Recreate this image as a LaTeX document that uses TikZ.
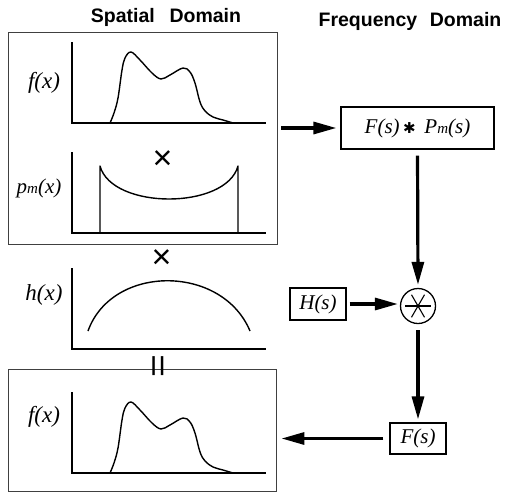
\documentclass[tikz,border=0pt]{standalone}
\usepackage{fontspec}
\usepackage{graphicx}
\setmainfont{Liberation Serif}
\setsansfont{Liberation Sans}
\newfontfamily\symfont{DejaVu Sans}
\usetikzlibrary{arrows.meta,calc}
\tikzset{
  panel/.style={draw=black!75, line width=0.9pt, inner sep=0pt},
  opbox/.style={draw=black, line width=1.2pt, inner sep=0pt},
  lbl/.style={font=\fontsize{21}{21}\selectfont\itshape, inner sep=0pt},
  axis/.style={line width=1.6pt},
  curve/.style={line width=1.4pt, line join=round},
  arr/.style={line width=3.2pt, -{Triangle[length=23pt,width=12pt]}},
  title/.style={font=\fontsize{19.5}{19.5}\selectfont\sffamily\bfseries, anchor=base, inner sep=0pt},
  opsym/.style={font=\fontsize{34}{34}\selectfont\sffamily, inner sep=0pt}
}
\begin{document}
\begin{tikzpicture}[x=1pt,y=-1pt]
\useasboundingbox (0,0) rectangle (506,499);
% titles
\node[title] (t1) at (166,22.7) {Spatial\hspace{0.75em}Domain};
\node[title] (t2) at (410,26.5) {Frequency\hspace{0.65em}Domain};
% panels
\node[panel, minimum width=269pt, minimum height=212pt] (topbox) at (142.5,138) {};
\node[panel, minimum width=268pt, minimum height=122pt] (botbox) at (142,430) {};
% f(x) top
\draw[axis] (72,42) -- (72,123) -- (266,123);
\draw[curve] plot[smooth, tension=0.6] coordinates {(110,123) (114,113) (118,98) (122,70) (125,58) (131,52) (140,60) (152,73) (161,79) (170,75) (183,68) (190,72) (195,83) (200,102) (205,111) (213,117) (223,120) (233,123)};
\node[lbl, font=\fontsize{23}{23}\selectfont\itshape] (lf1) at (44,83) {f(x)};
% pm(x)
\draw[axis] (72,152) -- (72,233) -- (266,233);
\draw[curve] (100,233) -- (100,166) .. controls (112,210) and (226,210) .. (238,166) -- (238,233);
\node[lbl] (lpm) at (39,188) {p{\fontsize{15}{15}\selectfont m}(x)};
\node[opsym] (x1) at (162.5,160) {×};
% h(x)
\node[opsym] (x2) at (161.5,259.5) {×};
\draw[axis] (72,268) -- (72,349) -- (266,349);
\draw[curve] (88,331) .. controls (112,264) and (222,264) .. (250,331);
\node[lbl, font=\fontsize{23}{23}\selectfont\itshape] (lh) at (44,295) {h(x)};
% equals
\node[opsym, rotate=90] (eq) at (161.5,366) {\scalebox{1.15}[1]{=}};
% f(x) bottom
\draw[axis] (72,392) -- (72,473) -- (266,473);
\draw[curve] plot[smooth, tension=0.6] coordinates {(110,473) (114,463) (118,448) (122,420) (125,408) (131,402) (140,410) (152,423) (161,429) (170,425) (183,418) (190,422) (195,433) (200,452) (205,461) (213,467) (223,470) (233,473)};
\node[lbl, font=\fontsize{23}{23}\selectfont\itshape] (lf2) at (44,417) {f(x)};
% frequency side
\node[opbox, minimum width=153pt, minimum height=42pt] (fp) at (417.5,128) {\fontsize{21}{21}\selectfont\itshape F(s)\,{\symfont\upshape\fontsize{15}{15}\selectfont ✱}\, P{\fontsize{15}{15}\selectfont m}(s)};
\node[draw, circle, line width=1.3pt, minimum size=35pt, inner sep=0pt] (cv) at (418,306) {};
\draw[line width=1.1pt] ($(cv)+(-13,0)$) -- ($(cv)+(13,0)$);
\draw[line width=1.1pt] ($(cv)+(60:13)$) -- ($(cv)+(240:13)$);
\draw[line width=1.1pt] ($(cv)+(120:13)$) -- ($(cv)+(300:13)$);
\node[opbox, minimum width=56pt, minimum height=32pt] (hs) at (318,304) {\fontsize{21}{21}\selectfont\itshape H(s)};
\node[opbox, minimum width=56pt, minimum height=31pt] (fs) at (418,438.5) {\fontsize{21}{21}\selectfont\itshape F(s)};
% arrows
\draw[arr, shorten <=4pt, shorten >=4pt] (fp.west -| topbox.east) -- (fp.west);
\draw[arr, shorten <=6pt, shorten >=3pt] (fp.south) -- (cv.north);
\draw[arr, shorten <=3pt, shorten >=2pt] (hs.east) -- (hs.east -| cv.west);
\draw[arr, shorten <=6pt, shorten >=3pt] (cv.south) -- (fs.north);
\draw[arr, shorten <=6pt, shorten >=5pt] (fs.west) -- (fs.west -| botbox.east);
\end{tikzpicture}
\end{document}
